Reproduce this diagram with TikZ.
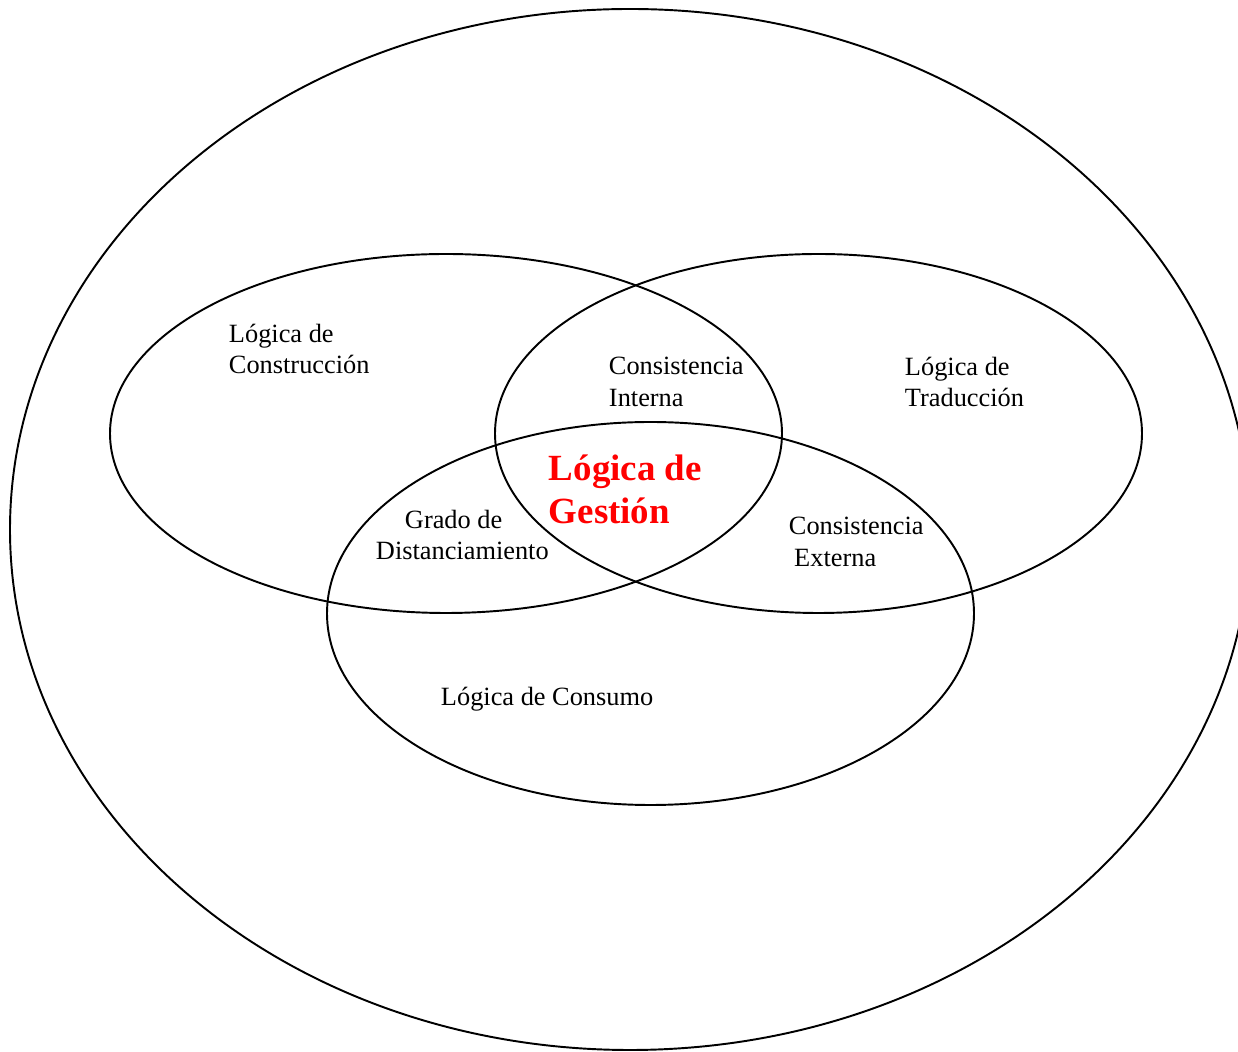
\documentclass[tikz,border=0pt]{standalone}
\usepackage{fontspec}
\setmainfont{Liberation Serif}
\usetikzlibrary{shapes.geometric}

\begin{document}
\begin{tikzpicture}[thick, line width=1.1pt,
                    main node/.style={ellipse,draw,inner sep=0pt},
                    text node/.style={anchor=west,inner sep=0pt,align=left,font=\fontsize{15}{18}\selectfont}]

          \useasboundingbox (0,0) rectangle (24.76,21.04);
          \clip (0,0) rectangle (24.76,21.04);

          \node[main node, minimum width=24.8cm, minimum height=20.82cm] (all) at (12.6,10.45) {};
          \node[main node, minimum width=13.44cm, minimum height=7.18cm] (constr) at (8.92,12.37) {};
          \node[main node, minimum width=12.94cm, minimum height=7.18cm] (trad) at (16.37,12.37) {};
          \node[main node, minimum width=12.94cm, minimum height=7.66cm] (cons) at (13.01,8.77) {};

          \node[text node] (1) at (4.56,14.06) {Lógica de\\Construcción};
          \node[text node] (2) at (12.16,13.40) {Consistencia\\Interna};
          \node[text node] (3) at (18.08,13.40) {Lógica de\\Traducción};
          \node[text node] (4) at (7.50,10.34) {\hspace*{0.58cm}Grado de\\Distanciamiento};
          \node[text node] (5) at (15.76,10.20) {Consistencia\\\hspace*{3pt}Externa};
          \node[text node] (6) at (8.80,7.06) {Lógica de Consumo};
          \node[text node, text=red, font=\fontsize{21}{24.5}\selectfont\bfseries] (7) at (10.96,11.26) {Lógica de\\Gestión};
        \end{tikzpicture}
\end{document}
